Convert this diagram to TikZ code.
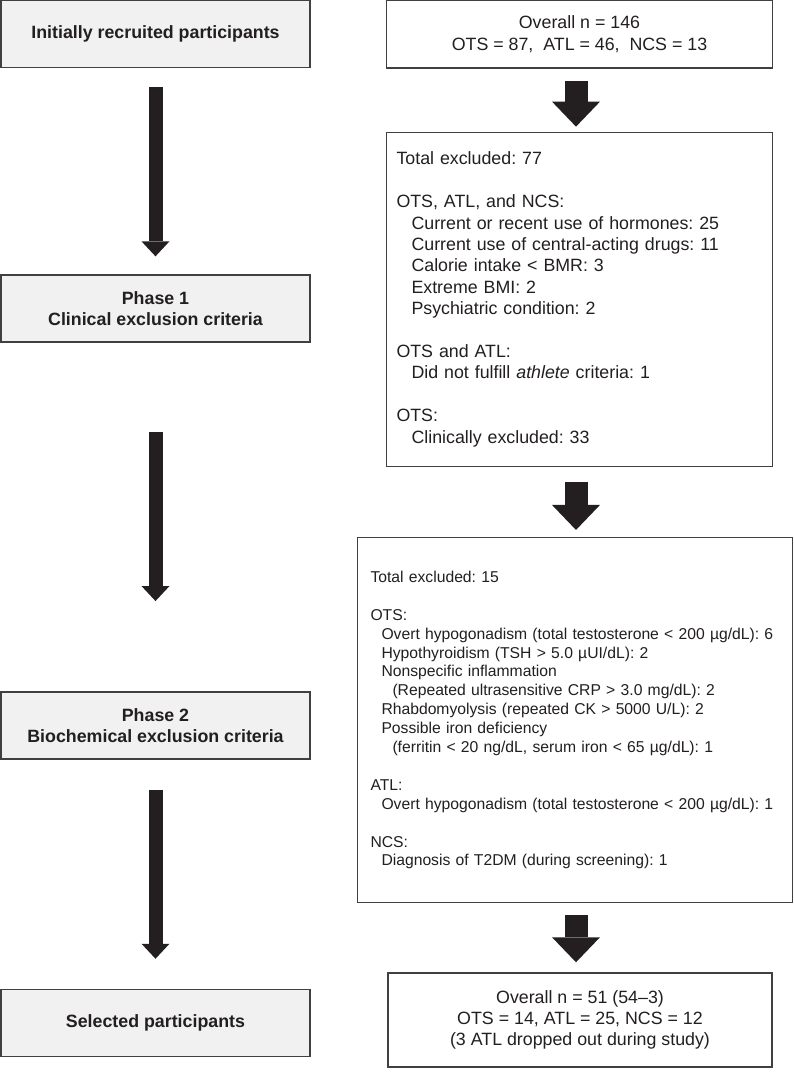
\documentclass[tikz,border=0pt]{standalone}
\usepackage{fontspec}
\setmainfont{Liberation Sans}
\usetikzlibrary{positioning,arrows.meta}
\definecolor{boxgray}{HTML}{F1F1F2}
\definecolor{edgegray}{HTML}{404040}
\definecolor{inkblack}{HTML}{231F20}
\frenchspacing

\begin{document}
\begin{tikzpicture}[x=1pt, y=-1pt, node distance=20pt,
        stage/.style={rectangle, draw=edgegray, line width=1.7pt, fill=boxgray, minimum width=309pt, minimum height=67pt, inner sep=0pt, align=center, text=inkblack, font=\bfseries\fontsize{17.8}{21.4}\selectfont},
        tally/.style={rectangle, draw=edgegray, line width=1.3pt, fill=white, inner sep=0pt, align=center, text=inkblack, font=\fontsize{17.8}{21.4}\selectfont},
        listbox/.style={rectangle, draw=edgegray, line width=1.3pt, fill=white, inner ysep=0pt, align=left, text=inkblack},
        thinarrow/.style={line width=14pt, draw=inkblack, -{Triangle[width=28pt, length=15pt, line width=0pt]}},
        fatarrow/.style={line width=23pt, draw=inkblack, -{Triangle[width=48pt, length=25pt, line width=0pt]}}]

        \useasboundingbox (0,0) rectangle (794,1073);

        % phases on the left
        \node[stage] (init) at (155.5,34) {Initially recruited participants};
        \node[stage, below=206pt of init] (phase1) {Phase 1\\Clinical exclusion criteria};
        \node[stage, below=348pt of phase1] (phase2) {Phase 2\\Biochemical exclusion criteria};
        \node[stage, below=229pt of phase2] (select) {Selected participants};

        % counts on the right
        \node[tally, minimum width=386pt, minimum height=68pt, right=75pt of init] (overall) {Overall n = 146\\OTS = 87,\ \ ATL = 46,\ \ NCS = 13};
        \node[listbox, text width=366pt, inner xsep=10pt, minimum height=334pt, below=63pt of overall, font=\fontsize{17.8}{21.4}\selectfont] (clinic) {%
            Total excluded: 77\\[\baselineskip]
            OTS, ATL, and NCS:\\
            \hspace*{15pt}Current or recent use of hormones: 25\\
            \hspace*{15pt}Current use of central-acting drugs: 11\\
            \hspace*{15pt}Calorie intake < BMR: 3\\
            \hspace*{15pt}Extreme BMI: 2\\
            \hspace*{15pt}Psychiatric condition: 2\\[\baselineskip]
            OTS and ATL:\\
            \hspace*{15pt}Did not fulfill \textit{athlete} criteria: 1\\[\baselineskip]
            OTS:\\
            \hspace*{15pt}Clinically excluded: 33};
        \node[listbox, text width=409pt, inner xsep=13pt, minimum height=365pt, below=70pt of clinic, xshift=-4.5pt, font=\fontsize{15.7}{18.9}\selectfont] (biochem) {%
            Total excluded: 15\\[\baselineskip]
            OTS:\\
            \hspace*{11pt}Overt hypogonadism (total testosterone < 200 µg/dL): 6\\
            \hspace*{11pt}Hypothyroidism (TSH > 5.0 µUI/dL): 2\\
            \hspace*{11pt}Nonspecific inflammation\\
            \hspace*{22pt}(Repeated ultrasensitive CRP > 3.0 mg/dL): 2\\
            \hspace*{11pt}Rhabdomyolysis (repeated CK > 5000 U/L): 2\\
            \hspace*{11pt}Possible iron deficiency\\
            \hspace*{22pt}(ferritin < 20 ng/dL, serum iron < 65 µg/dL): 1\\[\baselineskip]
            ATL:\\
            \hspace*{11pt}Overt hypogonadism (total testosterone < 200 µg/dL): 1\\[\baselineskip]
            NCS:\\
            \hspace*{11pt}Diagnosis of T2DM (during screening): 1};
        \node[tally, minimum width=384pt, minimum height=94pt, below=69pt of biochem, xshift=5pt] (final) {Overall n = 51 (54–3)\\OTS = 14, ATL = 25, NCS = 12\\(3 ATL dropped out during study)};

        % arrows
        \coordinate (mid) at (576,0);
        \draw[thinarrow, shorten <=19pt, shorten >=18pt] (init) -- (phase1);
        \draw[thinarrow, shorten <=89pt, shorten >=90pt] (phase1) -- (phase2);
        \draw[thinarrow, shorten <=30pt, shorten >=30pt] (phase2) -- (select);
        \draw[fatarrow, shorten <=12pt, shorten >=5pt] (overall.south -| mid) -- (clinic.north -| mid);
        \draw[fatarrow, shorten <=15pt, shorten >=7pt] (clinic.south -| mid) -- (biochem.north -| mid);
        \draw[fatarrow, shorten <=12pt, shorten >=10pt] (biochem.south -| mid) -- (final.north -| mid);

    \end{tikzpicture}
\end{document}
